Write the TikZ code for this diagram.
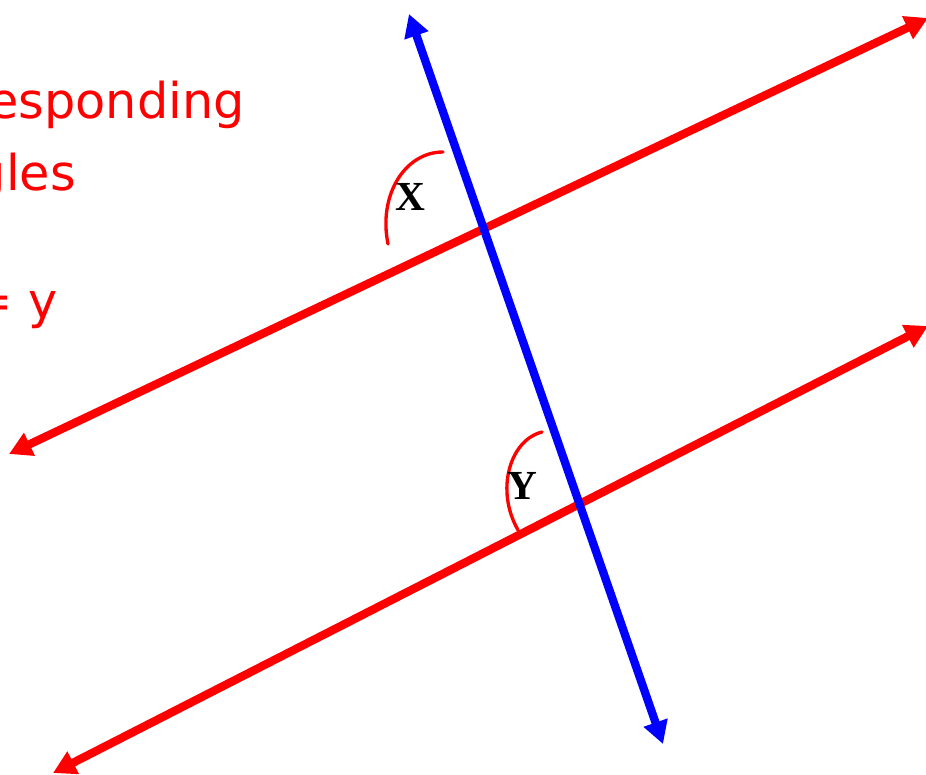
\documentclass[tikz,border=0pt]{standalone}
\usepackage{fontspec}
\setmainfont{Liberation Serif}
\newfontfamily\handfont{DejaVu Sans}
\usepackage{tikz}
\usetikzlibrary{arrows.meta}
\definecolor{linered}{HTML}{FF0000}
\definecolor{lineblue}{HTML}{0000FF}

\begin{document}
\begin{tikzpicture}[x=0.75pt,y=-0.75pt,
  parallel/.style={draw=linered,line width=6.2pt,{Triangle[length=17pt,width=18pt]}-{Triangle[length=17pt,width=18pt]}},
  transversal/.style={draw=lineblue,line width=6.2pt,{Triangle[length=17pt,width=18pt]}-{Triangle[length=17pt,width=18pt]}},
  anglemark/.style={draw=linered,line width=2.5pt,line cap=round},
  anglelabel/.style={font=\fontsize{31}{31}\selectfont\bfseries,inner sep=0pt},
  note/.style={font=\handfont\fontsize{37}{37}\selectfont,text=linered,inner sep=0pt,anchor=base east}]
\useasboundingbox (0,0) rectangle (926,775);
\clip (0,0) rectangle (926,775);
% handwritten note, cut at the left edge
\node[note] (note1) at (245,118) {Corresponding};
\node[note] (note2) at (76,190) {angles};
\node[note] (note3) at (58,318) {x = y};
% line ends
\coordinate (upW) at (9,454);
\coordinate (upE) at (928,18);
\coordinate (loW) at (53,773);
\coordinate (loE) at (928,326);
\coordinate (trN) at (409,14);
\coordinate (trS) at (663,744);
% angle marks
\coordinate (arcXa) at (443,152);
\coordinate (arcXb) at (388,244);
\coordinate (arcYa) at (542,432);
\coordinate (arcYb) at (518,530);
\draw[anglemark] (arcXa) .. controls (405,152) and (378,195) .. (arcXb);
\draw[anglemark] (arcYa) .. controls (510,440) and (495,490) .. (arcYb);
\node[anglelabel] (labX) at (410,197) {X};
\node[anglelabel] (labY) at (522,486) {Y};
% lines
\draw[parallel] (upW) -- (upE);
\draw[parallel] (loW) -- (loE);
\draw[transversal] (trN) -- (trS);
\end{tikzpicture}
\end{document}
